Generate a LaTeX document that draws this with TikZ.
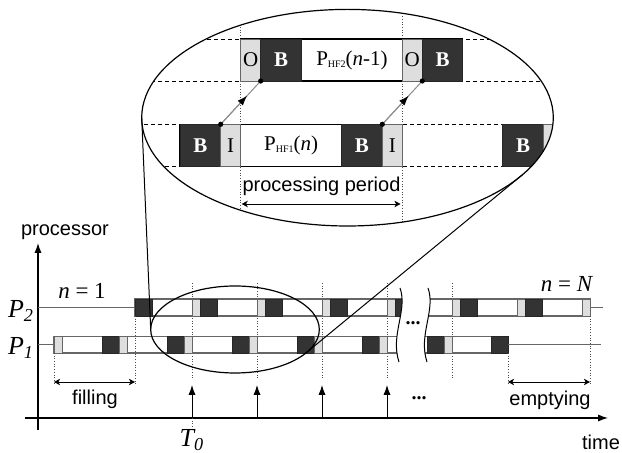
\documentclass[tikz,border=0pt]{standalone}
\usepackage{fontspec}
\setmainfont{Liberation Serif}
\setsansfont{Liberation Sans}
\usepackage{tikz}
\usetikzlibrary{positioning,calc,arrows.meta,shapes.geometric}
\definecolor{bdark}{HTML}{333333}
\definecolor{ilight}{HTML}{DEDEDE}

\begin{document}
\begin{tikzpicture}[x=0.5pt, y=-0.5pt, >={Latex[length=5pt,width=3.6pt]},
    font=\sffamily\fontsize{10}{12}\selectfont,
    row/.style={draw=black!60, fill=white, line width=0.6pt},
    rowline/.style={draw=black!60, line width=0.6pt},
    bblk/.style={draw=black!85, fill=bdark, line width=0.4pt},
    iblk/.style={draw=black!60, fill=ilight, line width=0.4pt},
    vgrid/.style={densely dotted, line width=0.35pt, draw=black!70},
    hgrid/.style={dash pattern=on 2pt off 1.5pt, line width=0.45pt},
    span/.style={{Stealth[length=3pt,width=3.2pt,inset=0.8pt]}-{Stealth[length=3pt,width=3.2pt,inset=0.8pt]}, line width=0.45pt},
    ser/.style={font=\rmfamily\fontsize{11.5}{13}\selectfont, inner sep=0pt},
    zl/.style={font=\rmfamily\fontsize{10.5}{12}\selectfont, inner sep=0pt},
    zb/.style={font=\rmfamily\bfseries\fontsize{10.5}{12}\selectfont, text=white, inner sep=0pt}]

  \useasboundingbox (0,0) rectangle (622,453);

  % axes
  \coordinate (ybot) at (38,430);
  \coordinate (ytop) at (38,243);
  \coordinate (xleft) at (25,418);
  \coordinate (xright) at (608,418);
  \draw[->, line width=0.6pt] (ybot) -- (ytop);
  \draw[->, line width=0.6pt] (xleft) -- (xright);
  \node (proc) at (65,232) {processor};
  \node (time) at (601,442) {time};
  \node[ser] (p2) at (21,311) {\fontsize{13}{14}\selectfont\itshape P\textsubscript{2}};
  \node[ser] (p1) at (21,348) {\fontsize{13}{14}\selectfont\itshape P\textsubscript{1}};
  \node[ser] (nfirst) at (82,291) {\textit{n} = 1};
  \node[ser] (nlast) at (567,284) {\textit{n} = \textit{N}};
  \node[ser] (tzero) at (192,440) {\fontsize{13}{14}\selectfont\itshape T\textsubscript{0}};

  \foreach \b in {192,257,...,452}
    \draw[vgrid] (\b,283) -- (\b,378);
  \draw[vgrid] (192,418) -- (192,428);

  % processor rows
  \draw[rowline] (38,307.5) -- (135,307.5);
  \draw[rowline] (38,344.75) -- (54,344.75);
  \draw[row] (54,336.5) rectangle (508,353);
  \draw[iblk] (54,336.5) rectangle (62,353);
  \foreach \b in {127,192,...,452} {
    \draw[bblk] (\b-25,336.5) rectangle (\b-8,353);
    \draw[iblk] (\b-8,336.5) rectangle (\b,353);
  }
  \draw[bblk] (491,336.5) rectangle (508,353);
  \draw[rowline] (508,344.75) -- (601,344.75);

  \draw[row] (135,299) rectangle (590,316);
  \draw[bblk] (135,299) rectangle (152,316);
  \foreach \b in {192,257,...,517} {
    \draw[iblk] (\b,299) rectangle (\b+8,316);
    \draw[bblk] (\b+8,299) rectangle (\b+25,316);
  }
  \draw[iblk] (582,299) rectangle (590,316);
  \draw[rowline] (590,307.5) -- (603,307.5);

  % break
  \fill[white] (400,288) .. controls (408,310) and (390,335) .. (399,362)
    -- (427,362) .. controls (418,335) and (436,310) .. (428,288) -- cycle;
  \draw[line width=0.5pt] (400,288) .. controls (408,310) and (390,335) .. (399,362);
  \draw[line width=0.5pt] (428,288) .. controls (436,310) and (418,335) .. (427,362);
  \node[font=\bfseries] (gap) at (413,323) {...};

  \draw[vgrid] (135,316) -- (135,384);
  \draw[vgrid] (54,353) -- (54,385);
  \draw[vgrid] (508,353) -- (508,385);
  \draw[vgrid] (590,316) -- (590,385);

  \coordinate (fa) at (54,382);
  \coordinate (fb) at (135,382);
  \coordinate (ea) at (508,382);
  \coordinate (eb) at (590,382);
  \draw[span] (fa) -- (fb);
  \draw[span] (ea) -- (eb);
  \node (filling) at (95,399) {filling};
  \node (emptying) at (550,400) {emptying};

  \foreach \b [count=\i] in {192,257,322,387} {
    \coordinate (dn\i) at (\b,418);
    \coordinate (up\i) at (\b,385);
    \draw[->, line width=0.5pt] (dn\i) -- (up\i);
  }
  \node[font=\bfseries] (more) at (419,398) {...};

  % zoomed view
  \node[ellipse, draw, line width=0.6pt, minimum width=84.3pt, minimum height=43.5pt,
        inner sep=0pt, outer sep=0pt] (spot) at (235,329.5) {};

  \begin{scope}
    \clip (347.5,117.7) ellipse [x radius=205.8, y radius=108.3];
    \foreach \y in {39,81,124.3,166.7}
      \draw[hgrid] (130,\y) -- (560,\y);
    \foreach \x in {240.7,402.3}
      \draw[vgrid] (\x,0) -- (\x,230);

    \draw[line width=0.6pt, fill=white] (240.7,39) rectangle (462.7,81);
    \draw[iblk] (240.7,39) rectangle (260.7,81);
    \draw[bblk] (260.7,39) rectangle (301.7,81);
    \draw[iblk] (402.3,39) rectangle (422.3,81);
    \draw[bblk] (422.3,39) rectangle (462.7,81);
    \node[zl] (o1) at (250.7,60) {O};
    \node[zb] (b1) at (281.2,60) {B};
    \node[zl] (hf2) at (352,60) {P\raisebox{-1.2pt}{\fontsize{5}{5}\selectfont HF2}(\textit{n}-1)};
    \node[zl] (o2) at (412.3,60) {O};
    \node[zb] (b2) at (442.5,60) {B};

    \draw[line width=0.6pt, fill=white] (180,124.3) rectangle (402.3,166.7);
    \draw[bblk] (180,124.3) rectangle (220.7,166.7);
    \draw[iblk] (220.7,124.3) rectangle (240.7,166.7);
    \draw[bblk] (341.7,124.3) rectangle (382.3,166.7);
    \draw[iblk] (382.3,124.3) rectangle (402.3,166.7);
    \draw[bblk] (502.7,124.3) rectangle (543.3,166.7);
    \draw[iblk] (543.3,124.3) rectangle (563.9,166.7);
    \node[zb] (b3) at (200.3,145.5) {B};
    \node[zl] (i1) at (230.7,145.5) {I};
    \node[zl] (hf1) at (291.2,145.5) {P\raisebox{-1.2pt}{\fontsize{5}{5}\selectfont HF1}(\textit{n})};
    \node[zb] (b4) at (362,145.5) {B};
    \node[zl] (i2) at (392.3,145.5) {I};
    \node[zb] (b5) at (523,145.5) {B};

    \coordinate (d1) at (220.7,124.3);
    \coordinate (u1) at (260.7,81);
    \coordinate (d2) at (382.3,124.3);
    \coordinate (u2) at (422.3,81);
    \foreach \d/\u in {d1/u1,d2/u2} {
      \draw[black!45, line width=0.5pt] (\d) -- (\u);
      \draw[black!45, line width=0.5pt, -{Latex[color=black,length=5pt,width=3.6pt]}]
        (\d) -- ($(\d)!0.66!(\u)$);
      \fill (\d) circle (1.3pt);
      \fill (\u) circle (1.3pt);
    }

    \coordinate (pa) at (241.7,204);
    \coordinate (pb) at (400.5,204);
    \draw[span] (pa) -- (pb);
    \node (period) at (321.5,186) {processing period};
  \end{scope}

  \node[ellipse, draw, line width=0.6pt, minimum width=205.8pt, minimum height=108.3pt,
        inner sep=0pt, outer sep=0pt] (zoom) at (347.5,117.7) {};

  \draw[line width=0.5pt] (zoom.west) -- (spot.west);
  \draw[line width=0.5pt] (zoom.-18) -- (spot.-19);
\end{tikzpicture}
\end{document}
